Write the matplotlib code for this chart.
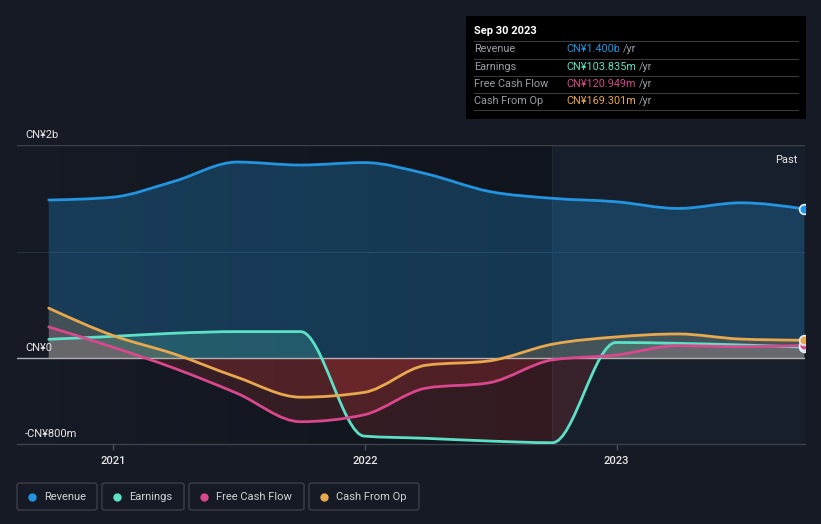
import numpy as np
import pandas as pd
import matplotlib
matplotlib.use("Agg")
import matplotlib.pyplot as plt
import matplotlib.dates as mdates
import matplotlib.transforms as mtransforms
from matplotlib.path import Path
from matplotlib.patches import PathPatch, Rectangle, FancyBboxPatch

plt.rcParams["font.family"] = ["Roboto", "DejaVu Sans"]

# Data (CN¥ millions, trailing twelve months, quarterly)
dates = pd.to_datetime([
    "2020-09-30", "2020-12-31", "2021-03-31", "2021-06-30", "2021-09-30",
    "2021-12-31", "2022-03-31", "2022-06-30", "2022-09-30", "2022-12-31",
    "2023-03-31", "2023-06-30", "2023-09-30",
])
revenue = [1484, 1510, 1660, 1840, 1812, 1835, 1730, 1565, 1500, 1468, 1405, 1458, 1400]
earnings = [178, 205, 235, 250, 250, -730, -751, -776, -792, 148, 140, 125, 104]
free_cash_flow = [294, 106, -94, -329, -595, -530, -280, -230, -15, 30, 118, 109, 121]
cash_from_op = [470, 216, 40, -178, -365, -320, -65, -25, 132, 200, 228, 180, 169]

series_names = ["Revenue", "Earnings", "Free Cash Flow", "Cash From Op"]
series_values = [revenue, earnings, free_cash_flow, cash_from_op]
series_colors = ["#2394df", "#5ce0c6", "#d9478c", "#e8a94e"]
tooltip_values = ["CN¥1.400b", "CN¥103.835m", "CN¥120.949m", "CN¥169.301m"]

y_tick_labels = {2000: "CN¥2b", 0: "CN¥0", -800: "-CN¥800m"}
year_ticks = ["2021", "2022", "2023"]

BG = "#151a24"
W, H = 821, 524


def fx(px):
    return px / W


def fy(py):
    return 1 - py / H


def monotone_path(x, y):
    # monotone cubic (same idea as d3 curveMonotoneX), written as bezier segments
    x = np.asarray(x, float)
    y = np.asarray(y, float)
    n = len(x)
    h = np.diff(x)
    s = np.diff(y) / h
    t = np.zeros(n)
    for i in range(1, n - 1):
        h0, h1, s0, s1 = h[i - 1], h[i], s[i - 1], s[i]
        p = (s0 * h1 + s1 * h0) / (h0 + h1)
        t[i] = (np.sign(s0) + np.sign(s1)) * min(abs(s0), abs(s1), 0.5 * abs(p))
    t[0] = (3 * s[0] - t[1]) / 2
    t[-1] = (3 * s[-1] - t[-2]) / 2
    verts = [(x[0], y[0])]
    codes = [Path.MOVETO]
    for i in range(n - 1):
        dx = h[i] / 3
        verts += [(x[i] + dx, y[i] + dx * t[i]),
                  (x[i + 1] - dx, y[i + 1] - dx * t[i + 1]),
                  (x[i + 1], y[i + 1])]
        codes += [Path.CURVE4] * 3
    return verts, codes


fig = plt.figure(figsize=(W / 100, H / 100), dpi=100, facecolor=BG)
ax = fig.add_axes([fx(17), fy(444), fx(805) - fx(17), fy(145) - fy(444)])
ax.set_facecolor(BG)

xnum = mdates.date2num(dates)
x_left = mdates.date2num(pd.Timestamp("2020-08-15"))
x_right = mdates.date2num(pd.Timestamp("2023-10-01"))
ax.set_xlim(x_left, x_right)
ax.set_ylim(-804, 2000)

# darker band over the history, lighter band over the last year
grad = np.linspace(0, 1, 512).reshape(1, -1)
ax.imshow(grad, extent=[xnum[0], xnum[8], -804, 2000], aspect="auto",
          interpolation="bilinear",
          cmap=matplotlib.colors.LinearSegmentedColormap.from_list(
              "dk", [(0, 0, 0, 0.0), (0, 0, 0, 0.22)]), zorder=0.5)
ax.axvspan(xnum[8], x_right, color="#1d3a55", alpha=0.16, lw=0, zorder=0.6)
ax.axvline(xnum[8], color="#24364a", lw=0.8, alpha=0.5, zorder=0.7)

# grid lines
ax.axhline(2000, color="#3b4049", lw=1, zorder=1)
ax.axhline(1000, color="#2c3a4a", lw=0.8, alpha=0.7, zorder=1)

span = x_right - x_left
for name, vals, col in zip(series_names, series_values, series_colors):
    verts, codes = monotone_path(xnum, vals)
    fverts = verts + [(xnum[-1], 0), (xnum[0], 0), (xnum[0], vals[0])]
    fcodes = codes + [Path.LINETO, Path.LINETO, Path.CLOSEPOLY]
    fill_path = Path(fverts, fcodes)
    alpha_pos = 0.28 if name == "Revenue" else 0.2
    pos = PathPatch(fill_path, facecolor=col, edgecolor="none", alpha=alpha_pos, zorder=2)
    neg = PathPatch(fill_path, facecolor="#e03c3c", edgecolor="none", alpha=0.17, zorder=2)
    ax.add_patch(pos)
    ax.add_patch(neg)
    pos.set_clip_path(Rectangle((x_left, 0), span, 5000, transform=ax.transData))
    neg.set_clip_path(Rectangle((x_left, -5000), span, 5000, transform=ax.transData))
    line = PathPatch(Path(verts, codes), facecolor="none", edgecolor=col, lw=2.0,
                     capstyle="round", joinstyle="round", zorder=4)
    ax.add_patch(line)

ax.axhline(0, color="#c9c9c9", lw=1, alpha=0.85, zorder=3)

# end-point markers
for vals, col in zip(series_values, series_colors):
    ax.plot(xnum[-1], vals[-1], "o", ms=7, mfc=col, mec="#e8eef5", mew=1.2, zorder=5, clip_on=True)

# y labels
ylab_trans = mtransforms.blended_transform_factory(ax.transAxes, ax.transData)
for v, lab in y_tick_labels.items():
    off = mtransforms.offset_copy(ylab_trans, fig=fig, x=0, y=5, units="dots")
    ax.text(8 / 788, v, lab, transform=off, color="#e6e6e6", fontsize=8, va="bottom", ha="left", zorder=6)

ax.text(0.99, 0.965, "Past", transform=ax.transAxes, color="#e6e6e6", fontsize=8,
        ha="right", va="top", zorder=6)

# x axis
ax.set_yticks([])
ax.set_xticks([mdates.date2num(pd.Timestamp(f"{y}-01-01")) for y in year_ticks])
ax.set_xticklabels(year_ticks, color="#e6e6e6", fontsize=8, fontweight="medium")
ax.tick_params(axis="x", length=4, width=1, color="#4a4f58", pad=5)
for sp in ["top", "right", "left"]:
    ax.spines[sp].set_visible(False)
ax.spines["bottom"].set_color("#3d424a")
ax.spines["bottom"].set_linewidth(1)

# tooltip box
fig.patches.append(Rectangle((fx(466), fy(119)), fx(806) - fx(466), fy(16) - fy(119),
                             transform=fig.transFigure, facecolor="#000000", edgecolor="none"))
fig.text(fx(474), fy(31), "Sep 30 2023", color="#ffffff", fontsize=8,
         fontweight="bold", va="center", ha="left")
for sep_y in [41, 58.5, 75.5, 93, 110]:
    fig.add_artist(plt.Line2D([fx(474), fx(798)], [fy(sep_y), fy(sep_y)],
                              transform=fig.transFigure, color="#3a3a3a", lw=0.8))
renderer = fig.canvas.get_renderer()
for i, (name, val, col) in enumerate(zip(series_names, tooltip_values, series_colors)):
    row_y = [49, 66.5, 84, 101][i]
    fig.text(fx(474), fy(row_y), name, color="#9a9ea6", fontsize=7.8, va="center", ha="left")
    t = fig.text(fx(566), fy(row_y), val, color=col, fontsize=7.8, va="center", ha="left")
    bb = t.get_window_extent(renderer)
    fig.text(bb.x1 / W + fx(3), fy(row_y), "/yr", color="#9a9ea6", fontsize=7.8,
             va="center", ha="left")

# legend
boxes = [(17, 97), (102, 184), (189, 304), (309, 419)]
for (x0, x1), name, col in zip(boxes, series_names, series_colors):
    fig.patches.append(FancyBboxPatch((fx(x0), fy(510)), fx(x1) - fx(x0), fy(483) - fy(510),
                                      boxstyle="round,pad=0,rounding_size=0.004",
                                      transform=fig.transFigure, facecolor="none",
                                      edgecolor="#3a3f48", lw=1))
    fig.add_artist(plt.Line2D([fx(x0 + 15)], [fy(496.5)], marker="o", ms=6, color=col,
                              mec="none", transform=fig.transFigure))
    fig.text(fx(x0 + 27), fy(496.5), name, color="#d0d3d8", fontsize=8, va="center", ha="left")

fig.savefig("out.png", facecolor=BG, dpi=100)
plt.close(fig)
